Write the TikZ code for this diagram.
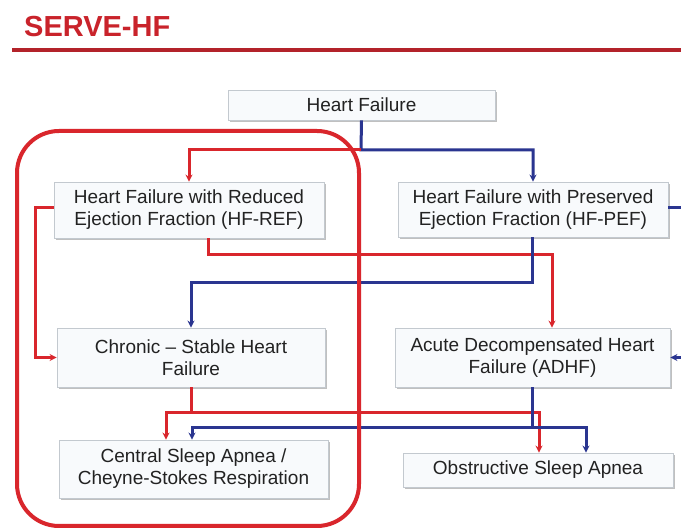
\documentclass[tikz,border=0pt]{standalone}
\usepackage{fontspec}
\setmainfont{Liberation Sans}
\usetikzlibrary{shadows,arrows.meta,calc}
\definecolor{cred}{HTML}{D9262C}
\definecolor{cblue}{HTML}{2A3590}
\definecolor{ctitle}{HTML}{C9232B}
\definecolor{cline}{HTML}{B3232A}
\definecolor{ctext}{HTML}{222222}
\definecolor{cfill}{HTML}{F8FAFC}
\definecolor{cborder}{HTML}{C3C9CF}
\tikzset{
  box/.style={draw=cborder, line width=0.8pt, fill=cfill, inner sep=0pt,
    align=center, text=ctext, font=\fontsize{19}{22}\selectfont,
    drop shadow={shadow xshift=1.8pt, shadow yshift=-1.8pt, fill=gray!70, opacity=0.7}},
  redc/.style={draw=cred, line width=3pt},
  bluec/.style={draw=cblue, line width=3pt},
  tip/.style={-{Stealth[length=7pt,width=7pt]}},
  bigrect/.style={draw=cred, line width=4pt, rounded corners=42pt}
}
\begin{document}
\begin{tikzpicture}[x=1pt,y=-1pt]
\useasboundingbox (0,0) rectangle (681,529);
\clip (0,0) rectangle (681,529);
\fill[white] (0,0) rectangle (681,529);

% title
\node[anchor=base west, inner sep=0pt, text=ctitle, font=\fontsize{29}{32}\selectfont\bfseries] (title) at (24,37) {SERVE-HF};
\coordinate (ulA) at (12,50);
\coordinate (ulB) at (690,50);
\draw[cline, line width=4.5pt] (ulA) -- (ulB);

% boxes
\node[box, minimum width=267pt, minimum height=30pt] (hf) at (361.5,105) {Heart Failure};
\node[box, minimum width=270pt, minimum height=56pt] (hfref) at (189,210) {Heart Failure with Reduced\\Ejection Fraction (HF-REF)};
\node[box, minimum width=270pt, minimum height=55pt] (hfpef) at (533,209.5) {Heart Failure with Preserved\\Ejection Fraction (HF-PEF)};
\node[box, minimum width=268pt, minimum height=59pt] (chronic) at (191,357.5) {Chronic -- Stable Heart\\Failure};
\node[box, minimum width=275pt, minimum height=59pt] (adhf) at (532.5,357.5) {Acute Decompensated Heart\\Failure (ADHF)};
\node[box, minimum width=269pt, minimum height=58pt] (csa) at (193.5,469) {Central Sleep Apnea /\\Cheyne-Stokes Respiration};
\node[box, minimum width=270pt, minimum height=34pt] (osa) at (538,470) {Obstructive Sleep Apnea};

% coordinates
\coordinate (j1) at (361,150);
\coordinate (j2) at (35,208);
\coordinate (j3) at (208,255);
\coordinate (j4) at (532,283);
\coordinate (j5) at (692,208);
\coordinate (j6) at (191,413);
\coordinate (j7) at (532,428);

% connectors
\draw[bluec, tip] (hf.south) -- (j1) -| (hfpef.north);
\draw[redc, tip] (j1) -| (hfref.north);
\draw[redc, tip] (hfref.west |- j2) -- (j2) |- (chronic.west);
\draw[redc, tip] (hfref.south -| j3) -- (j3) -| ($(adhf.north)+(19.5,0)$);
\draw[bluec, tip] (hfpef.south -| j4) -- (j4) -| (chronic.north);
\draw[bluec, tip] (hfpef.east |- j5) -- (j5) |- (adhf.east);
\draw[redc] (chronic.south) -- (j6);
\draw[redc, tip] (j6) -| ($(csa.north)+(-27.5,0)$);
\draw[redc, tip] (j6) -| ($(osa.north)+(1,0)$);
\draw[bluec] (adhf.south -| j7) -- (j7);
\draw[bluec, tip] (j7) -| ($(csa.north)+(-1.5,0)$);
\draw[bluec, tip] (j7) -| ($(osa.north)+(48,0)$);

% big rounded rectangle
\coordinate (rA) at (17,131);
\coordinate (rB) at (359,526);
\draw[bigrect] (rA) rectangle (rB);
\end{tikzpicture}
\end{document}
